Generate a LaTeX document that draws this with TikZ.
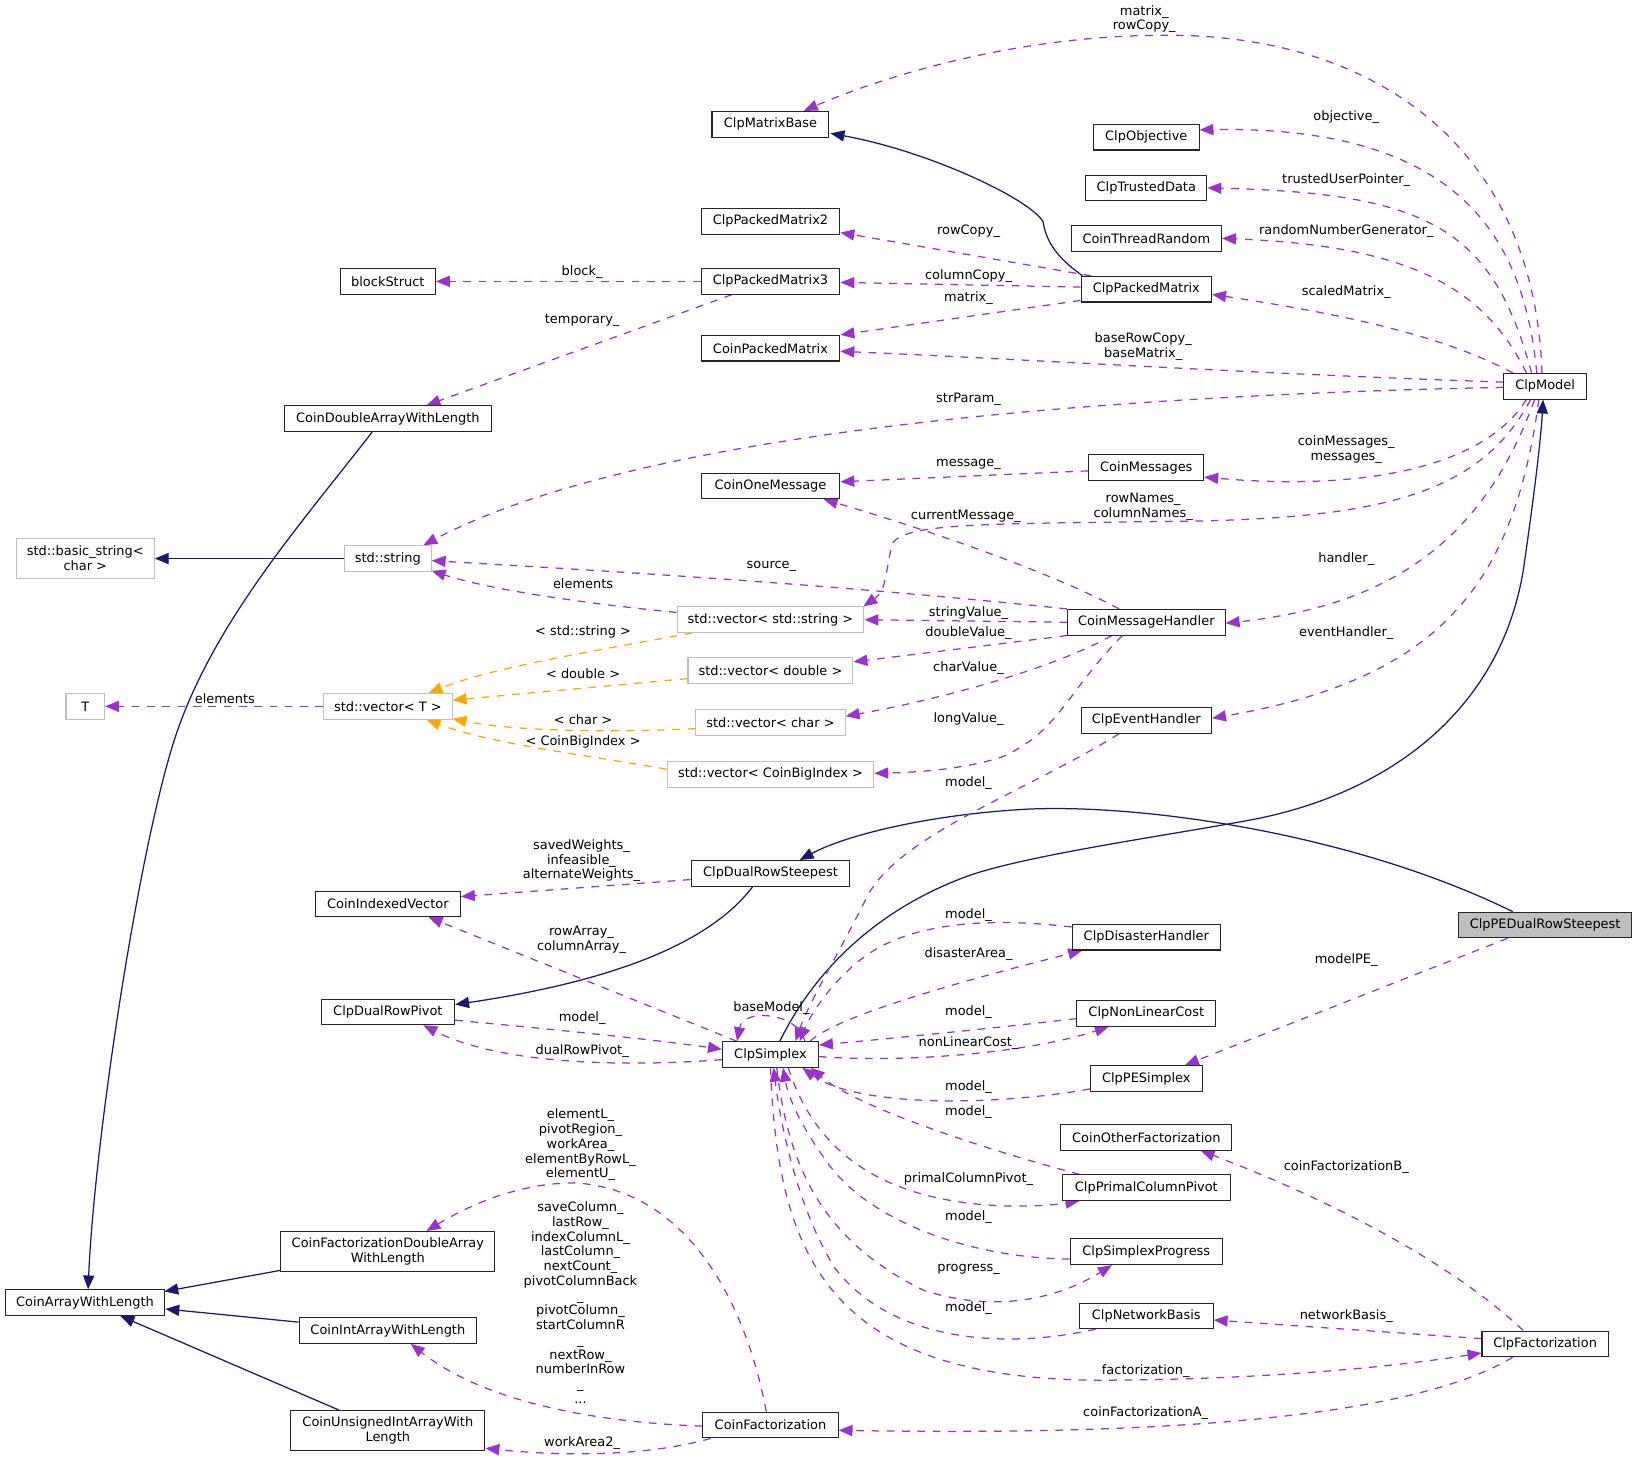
\documentclass[tikz,border=0pt]{standalone}
\usepackage{fontspec}
\setmainfont{DejaVu Sans}
\usetikzlibrary{arrows.meta,calc}
\pgfdeclarelayer{bg}
\pgfsetlayers{bg,main}
\definecolor{inhc}{HTML}{191970}
\definecolor{usec}{HTML}{9A32CD}
\definecolor{tplc}{HTML}{FFA500}
\definecolor{grayb}{HTML}{BFBFBF}
\definecolor{peg}{HTML}{BFBFBF}
\begin{document}
\begin{tikzpicture}[x=0.75pt,y=-0.75pt,
  txt/.style={font=\fontsize{9.3}{10.6}\selectfont},
  cls/.style={txt, draw=black!85, line width=0.75pt, fill=white, minimum height=18.4pt, inner xsep=1pt, inner ysep=0pt, minimum width=#1*0.75pt, align=center},
  ext/.style={cls=#1, draw=grayb},
  lbl/.style={txt, inner sep=0pt, align=center},
  inh/.style={draw=inhc, line width=0.9pt, -{Triangle[length=10pt,width=8pt]}},
  use/.style={draw=usec, line width=0.9pt, dash pattern=on 5.5pt off 5.5pt, -{Triangle[length=10pt,width=8pt]}},
  tpl/.style={use, draw=tplc},
]
\useasboundingbox (0,0) rectangle (1568,1398);

% ---------------- nodes ----------------
\node[cls=112] (cmb) at (738,119) {ClpMatrixBase};
\node[cls=101] (cobj) at (1098,131.4) {ClpObjective};
\node[cls=116] (ctd) at (1098,180) {ClpTrustedData};
\node[cls=144] (ctr) at (1098,228.3) {CoinThreadRandom};
\node[cls=133] (cpm2) at (738,212) {ClpPackedMatrix2};
\node[cls=91] (bs) at (371.5,269.5) {blockStruct};
\node[cls=133] (cpm3) at (738,269.5) {ClpPackedMatrix3};
\node[cls=125] (cpm) at (1098,277) {ClpPackedMatrix};
\node[cls=133] (copm) at (738,333.5) {CoinPackedMatrix};
\node[cls=79] (cm) at (1480,370) {ClpModel};
\node[cls=198] (cdawl) at (371.5,401) {CoinDoubleArrayWithLength};
\node[cls=110] (cmsgs) at (1098,448) {CoinMessages};
\node[cls=133] (com) at (738,465.5) {CoinOneMessage};
\node[ext=132, minimum height=29pt] (bstr) at (81.7,535) {std::basic\_string<\\char >};
\node[ext=83] (sstr) at (371.5,535) {std::string};
\node[ext=179] (vstr) at (738,593.6) {std::vector< std::string >};
\node[cls=151] (cmh) at (1098,596) {CoinMessageHandler};
\node[ext=158] (vdbl) at (738,642) {std::vector< double >};
\node[ext=37] (T) at (81.7,676.6) {T};
\node[ext=123] (vT) at (371.5,676.6) {std::vector< T >};
\node[cls=125] (ceh) at (1098,690) {ClpEventHandler};
\node[ext=143] (vchr) at (738,692) {std::vector< char >};
\node[ext=198] (vcbi) at (738,741.7) {std::vector< CoinBigIndex >};
\node[cls=152] (cdrs) at (738,836.5) {ClpDualRowSteepest};
\node[cls=139] (civ) at (371.5,865.8) {CoinIndexedVector};
\node[cls=166, fill=peg] (cpedrs) at (1480,886) {ClpPEDualRowSteepest};
\node[cls=142] (cdh) at (1098,897.7) {ClpDisasterHandler};
\node[cls=128] (cdrp) at (371.5,969.2) {ClpDualRowPivot};
\node[cls=133] (cnlc) at (1098,970.7) {ClpNonLinearCost};
\node[cls=92] (cs) at (738,1010) {ClpSimplex};
\node[cls=107] (cpes) at (1098,1033) {ClpPESimplex};
\node[cls=164] (cof) at (1098,1089.4) {CoinOtherFactorization};
\node[cls=161] (cpcp) at (1098,1137.6) {ClpPrimalColumnPivot};
\node[cls=205, minimum height=29pt] (cfdawl) at (371.5,1199) {CoinFactorizationDoubleArray\\WithLength};
\node[cls=146] (csp) at (1098,1199) {ClpSimplexProgress};
\node[cls=153] (cawl) at (81.4,1247.8) {CoinArrayWithLength};
\node[cls=128] (cnb) at (1098,1260.4) {ClpNetworkBasis};
\node[cls=170] (ciawl) at (371.5,1274.4) {CoinIntArrayWithLength};
\node[cls=121] (cfz) at (1480,1287.2) {ClpFactorization};
\node[cls=186, minimum height=29pt] (cuiawl) at (371.5,1370.4) {CoinUnsignedIntArrayWith\\Length};
\node[cls=129.5] (cf) at (738,1365) {CoinFactorization};

% ---------------- labels ----------------
\node[lbl] (l1) at (1096,18.3) {matrix\_\\rowCopy\_};
\node[lbl] (l2) at (1289.5,111.8) {objective\_};
\node[lbl] (l3) at (1289.5,172.7) {trustedUserPointer\_};
\node[lbl] (l4) at (1289.5,221) {randomNumberGenerator\_};
\node[lbl] (l5) at (927.7,221.9) {rowCopy\_};
\node[lbl] (l6) at (557.6,260.8) {block\_};
\node[lbl] (l7) at (927.7,264.4) {columnCopy\_};
\node[lbl] (l8) at (1289.5,279.4) {scaledMatrix\_};
\node[lbl] (l9) at (927.7,285.7) {matrix\_};
\node[lbl] (l10) at (557.6,307.2) {temporary\_};
\node[lbl] (l11) at (1095,332.2) {baseRowCopy\_\\baseMatrix\_};
\node[lbl] (l12) at (927.7,382.5) {strParam\_};
\node[lbl] (l13) at (1289.5,430.7) {coinMessages\_\\messages\_};
\node[lbl] (l14) at (927.7,444.7) {message\_};
\node[lbl] (l15) at (1095,485.5) {rowNames\_\\columnNames\_};
\node[lbl] (l16) at (925.2,494.9) {currentMessage\_};
\node[lbl] (l17) at (1289.5,535.8) {handler\_};
\node[lbl] (l18) at (738.9,542.8) {source\_};
\node[lbl] (l19) at (558.5,559.1) {elements};
\node[lbl] (l20) at (927.7,586.8) {stringValue\_};
\node[lbl] (l21) at (558.5,605.7) {< std::string >};
\node[lbl] (l22) at (927.7,606) {doubleValue\_};
\node[lbl] (l23) at (1289.5,606) {eventHandler\_};
\node[lbl] (l24) at (927.7,640.2) {charValue\_};
\node[lbl] (l25) at (558.5,645.6) {< double >};
\node[lbl] (l26) at (215.4,669.2) {elements};
\node[lbl] (l27) at (558.5,689) {< char >};
\node[lbl] (l28) at (927.7,689) {longValue\_};
\node[lbl] (l29) at (558.5,711) {< CoinBigIndex >};
\node[lbl] (l30) at (927.7,749.7) {model\_};
\node[lbl] (l31) at (557,824.5) {savedWeights\_\\infeasible\_\\alternateWeights\_};
\node[lbl] (l32) at (927.7,876.4) {model\_};
\node[lbl] (l33) at (557,900.5) {rowArray\_\\columnArray\_};
\node[lbl] (l34) at (927.7,913.8) {disasterArea\_};
\node[lbl] (l35) at (1289.5,919.5) {modelPE\_};
\node[lbl] (l36) at (738.9,965.8) {baseModel\_};
\node[lbl] (l37) at (927.7,969.7) {model\_};
\node[lbl] (l38) at (557.6,975.4) {model\_};
\node[lbl] (l39) at (927.7,998.7) {nonLinearCost\_};
\node[lbl] (l40) at (557.6,1006.4) {dualRowPivot\_};
\node[lbl] (l41) at (927.7,1041.5) {model\_};
\node[lbl] (l42) at (927.7,1064.8) {model\_};
\node[lbl] (l43) at (556,1096.7) {elementL\_\\pivotRegion\_\\workArea\_\\elementByRowL\_\\elementU\_};
\node[lbl] (l44) at (1289.5,1117.5) {coinFactorizationB\_};
\node[lbl] (l45) at (927.7,1129.3) {primalColumnPivot\_};
\node[lbl] (l46) at (927.7,1165.4) {model\_};
\node[lbl] (l47) at (927.7,1215.5) {progress\_};
\node[lbl] (l48) at (556,1247.6) {saveColumn\_\\lastRow\_\\indexColumnL\_\\lastColumn\_\\nextCount\_\\pivotColumnBack\\\_\\pivotColumn\_\\startColumnR\\\_\\nextRow\_\\numberInRow\\\_\\...};
\node[lbl] (l49) at (927.7,1252.6) {model\_};
\node[lbl] (l50) at (1289.5,1260.2) {networkBasis\_};
\node[lbl] (l51) at (1097.4,1312.9) {factorization\_};
\node[lbl] (l52) at (1097.4,1353.1) {coinFactorizationA\_};
\node[lbl] (l53) at (557.6,1381.9) {workArea2\_};

% ---------------- edges ----------------
\begin{pgfonlayer}{bg}
% inheritance
\draw[inh] ($(cpm.north west)+(2,0)$) .. controls (1010,245) and (1002,230) .. (999,212) .. controls (985,190) and (890,145) .. ($(cmb.south east)+(1,-4)$);
\draw[inh] (sstr.west) -- (bstr.east);
\draw[inh] ($(cdawl.south)+(-15,0)$) .. controls (290,500) and (200,600) .. (165,715) .. controls (130,830) and (90,1100) .. ($(cawl.north)+(3,0)$);
\draw[inh] ($(cs.north)+(9,0)$) .. controls (780,930) and (840,870) .. (930,838) .. controls (990,818) and (1120,800) .. (1200,785) .. controls (1330,760) and (1440,680) .. (1460,540) .. controls (1470,470) and (1476,420) .. ($(cm.south)+(-2,0)$);
\draw[inh] ($(cpedrs.north)+(-31,0)$) .. controls (1300,800) and (1100,770) .. (985,775) .. controls (890,780) and (810,800) .. ($(cdrs.north)+(28,0)$);
\draw[inh] ($(cdrs.south)+(-17,0)$) .. controls (690,890) and (620,935) .. ($(cdrp.east)+(0,-7)$);
\draw[inh] ($(cfdawl.south west)+(0,-2)$) -- ($(cawl.north east)+(-1,2)$);
\draw[inh] ($(ciawl.west)+(0,-8)$) -- ($(cawl.east)+(0,6)$);
\draw[inh] ($(cuiawl.north)+(-47,0)$) -- ($(cawl.south)+(34,0)$);

% usage from ClpModel
\draw[use] ($(cm.north)+(-3,0)$) .. controls (1470,150) and (1330,40) .. (1135,34) .. controls (970,30) and (830,80) .. ($(cmb.north)+(32,0)$);
\draw[use] ($(cm.north)+(-8,0)$) .. controls (1460,230) and (1400,120) .. ($(cobj.east)+(0,-7)$);
\draw[use] ($(cm.north)+(-13,0)$) .. controls (1430,220) and (1370,185) .. (ctd.east);
\draw[use] ($(cm.north)+(-18,0)$) .. controls (1420,270) and (1340,235) .. (ctr.east);
\draw[use] ($(cm.north west)+(9,0)$) .. controls (1380,320) and (1280,300) .. ($(cpm.east)+(0,5)$);
\draw[use] ($(cm.west)+(0,-4)$) .. controls (1200,358) and (1000,345) .. ($(copm.east)+(0,3)$);
\draw[use] ($(cm.west)+(0,1)$) .. controls (1000,380) and (600,420) .. ($(sstr.north)+(34,0)$);
\draw[use] ($(cm.south)+(-18,0)$) .. controls (1420,450) and (1300,470) .. ($(cmsgs.east)+(0,9)$);
\draw[use] ($(cm.south)+(-14,0)$) .. controls (1420,470) and (1330,495) .. (1150,499) .. controls (950,502) and (870,500) .. (855,520) .. controls (848,545) and (850,565) .. ($(vstr.north east)+(-1,0)$);
\draw[use] ($(cm.south)+(-10,0)$) .. controls (1420,520) and (1330,580) .. ($(cmh.east)+(0,1)$);
\draw[use] ($(cm.south)+(-6,0)$) .. controls (1450,560) and (1380,650) .. ($(ceh.east)+(0,-2)$);

% ClpPackedMatrix family
\draw[use] ($(cpm.north west)+(10,0)$) -- ($(cpm2.south east)+(0,-2)$);
\draw[use] ($(cpm.west)+(0,-2)$) -- ($(cpm3.east)+(0,1)$);
\draw[use] ($(cpm.south west)+(0,-2)$) -- (copm.north east);
\draw[use] (cpm3.west) -- (bs.east);
\draw[use] ($(cpm3.south)+(-37,0)$) -- ($(cdawl.north)+(37,0)$);

% messages
\draw[use] ($(cmsgs.west)+(0,3)$) -- ($(com.east)+(0,-4)$);
\draw[use] ($(cmh.north)+(-26,0)$) .. controls (1000,545) and (880,505) .. ($(com.south east)+(-16,0)$);
\draw[use] (cmh.north west) .. controls (800,560) and (600,548) .. ($(sstr.east)+(0,2)$);
\draw[use] (cmh.west) -- (vstr.east);
\draw[use] (cmh.south west) -- ($(vdbl.east)+(0,-8)$);
\draw[use] ($(cmh.south)+(-33,0)$) .. controls (1010,640) and (900,670) .. ($(vchr.east)+(0,-6)$);
\draw[use] ($(cmh.south)+(-23,0)$) .. controls (1020,665) and (1015,700) .. (960,725) .. controls (920,738) and (870,740) .. ($(vcbi.east)+(0,-1)$);

% std containers
\draw[use] ($(vstr.west)+(0,-7)$) .. controls (560,578) and (470,565) .. ($(sstr.south east)+(0,-1)$);
\draw[use] (vT.west) -- (T.east);
\draw[tpl] ($(vstr.south west)+(15,0)$) .. controls (560,625) and (470,640) .. ($(vT.north)+(39,0)$);
\draw[tpl] ($(vdbl.west)+(0,8)$) -- ($(vT.east)+(0,-6)$);
\draw[tpl] ($(vchr.west)+(0,6)$) .. controls (580,702) and (490,700) .. ($(vT.south east)+(0,-1)$);
\draw[tpl] ($(vcbi.west)+(0,-5)$) .. controls (540,720) and (470,712) .. ($(vT.south)+(37,0)$);

% ClpSimplex neighbourhood
\draw[use] ($(ceh.south)+(-26,0)$) .. controls (980,760) and (860,800) .. (830,860) .. controls (805,910) and (775,960) .. ($(cs.north)+(24,0)$);
\draw[use] ($(cdrs.west)+(0,6)$) -- ($(civ.east)+(0,-7)$);
\draw[use] ($(cs.north west)+(14,0)$) -- ($(civ.south)+(39,0)$);
\draw[use] ($(cs.west)+(0,5)$) .. controls (600,1022) and (480,1020) .. ($(cdrp.south)+(34,0)$);
\draw[use] ($(cdrp.east)+(0,8)$) .. controls (520,985) and (620,995) .. ($(cs.west)+(0,-5)$);
\draw[use] ($(cs.north)+(33,0)$) .. controls (765,970) and (712,965) .. ($(cs.north)+(-32,0)$);
\draw[use] ($(cdh.north west)+(0,3)$) .. controls (960,880) and (880,880) .. (830,915) .. controls (795,940) and (775,975) .. ($(cs.north)+(28,0)$);
\draw[use] ($(cs.north)+(38,0)$) .. controls (800,975) and (900,945) .. ($(cdh.south west)+(10,0)$);
\draw[use] ($(cnlc.west)+(0,5)$) .. controls (950,985) and (850,995) .. ($(cs.east)+(0,-9)$);
\draw[use] ($(cs.east)+(0,2)$) .. controls (860,1018) and (980,1010) .. ($(cnlc.south)+(-36,0)$);
\draw[use] ($(cpes.west)+(0,10)$) .. controls (950,1060) and (820,1060) .. ($(cs.south east)+(-16,0)$);
\draw[use] ($(cpcp.north west)+(17,0)$) .. controls (940,1100) and (820,1060) .. ($(cs.south east)+(-8,0)$);
\draw[use] ($(cs.south)+(17,0)$) .. controls (780,1100) and (840,1150) .. (960,1155) .. controls (990,1156) and (1010,1154) .. ($(cpcp.south west)+(17,0)$);
\draw[use] ($(csp.west)+(0,7)$) .. controls (930,1205) and (830,1170) .. (790,1110) .. controls (765,1075) and (755,1050) .. ($(cs.south)+(12,0)$);
\draw[use] ($(cs.south)+(6,0)$) .. controls (755,1120) and (790,1190) .. (885,1236) .. controls (960,1260) and (1020,1240) .. ($(csp.south)+(-33,0)$);
\draw[use] ($(cnb.south west)+(16,0)$) .. controls (950,1295) and (850,1280) .. (800,1215) .. controls (765,1160) and (748,1080) .. ($(cs.south)+(3,0)$);
\draw[use] (cs.south) .. controls (745,1200) and (790,1320) .. (1050,1322) .. controls (1200,1322) and (1330,1310) .. ($(cfz.south west)+(0,-4)$);

% factorization
\draw[use] ($(cfz.west)+(0,-5)$) -- ($(cnb.east)+(0,4)$);
\draw[use] ($(cfz.north)+(-21,0)$) .. controls (1380,1200) and (1250,1140) .. ($(cof.south)+(52,0)$);
\draw[use] ($(cfz.south)+(-31,0)$) .. controls (1350,1360) and (1100,1375) .. ($(cf.east)+(0,5)$);
\draw[use] ($(cpedrs.south)+(-36,0)$) -- ($(cpes.north)+(37,0)$);
\draw[use] ($(cf.north)+(-4,0)$) .. controls (715,1250) and (660,1140) .. (551,1133) .. controls (490,1133) and (440,1160) .. ($(cfdawl.north)+(37,0)$);
\draw[use] ($(cf.west)+(0,1)$) .. controls (560,1362) and (460,1340) .. ($(ciawl.south)+(22,0)$);
\draw[use] ($(cf.south west)+(8,0)$) .. controls (620,1395) and (540,1395) .. ($(cuiawl.south east)+(0,-3)$);
\end{pgfonlayer}
\end{tikzpicture}
\end{document}
